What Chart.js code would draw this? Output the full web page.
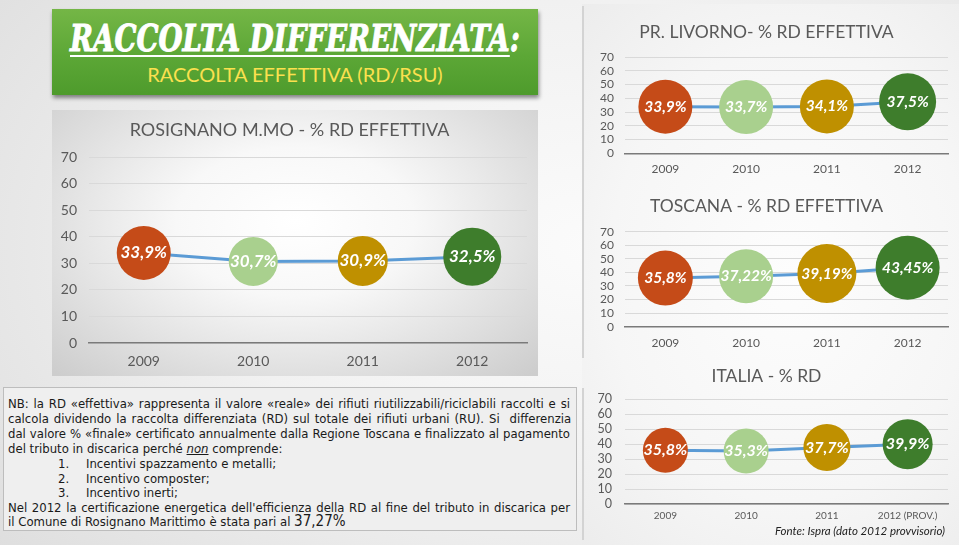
<!DOCTYPE html>
<html><head><meta charset="utf-8">
<script src="https://cdn.jsdelivr.net/npm/chart.js@4.4.0/dist/chart.umd.min.js"></script>
<style>
html,body{margin:0;padding:0;}
body{width:959px;height:545px;position:relative;overflow:hidden;
 background:radial-gradient(ellipse 80% 90% at 62% 45%, #fbfbfb 0%, #f1f1f1 50%, #dedede 100%);
 font-family:Lato,sans-serif;}
.abs{position:absolute;}
#banner{left:52px;top:9px;width:486px;height:86px;
 background:linear-gradient(180deg,#74b646 0%,#5ca736 55%,#4e9b2c 100%);
 box-shadow:1px 3px 4px rgba(0,0,0,0.45);}
#bt{left:0;top:6px;width:486px;display:flex;justify-content:center;color:#fff;white-space:nowrap;
 font-family:"DejaVu Serif",serif;font-style:italic;font-weight:bold;font-size:38px;line-height:46px;
 -webkit-text-stroke:1px #fff;}
#bt span.u{text-decoration:underline;text-decoration-thickness:2px;text-underline-offset:4px;}
#bs{left:0;top:53px;width:486px;text-align:center;color:#fbe04f;font-family:Lato,sans-serif;font-size:20px;line-height:24px;}
#rpanel{left:52px;top:110px;width:486px;height:266px;
 background:radial-gradient(ellipse 70% 80% at 50% 42%, #ffffff 0%, #f8f8f8 35%, #cdcdcd 100%);}
#rside{left:582px;top:4px;width:377px;height:541px;
 background:radial-gradient(ellipse 80% 70% at 55% 50%, #fdfdfd 0%, #f6f6f6 60%, #ececec 100%);}
.vline{left:582px;width:2px;background:#d3d3d3;}
#note{left:3px;top:387px;width:572px;height:142px;border:1px solid #bdbdbd;background:#efefef;
 font-family:"DejaVu Sans Condensed","DejaVu Sans",sans-serif;font-size:13px;color:#1a1a1a;}
.ln{position:absolute;left:4px;width:562px;white-space:nowrap;line-height:15px;}
.big{font-size:15px;}
#fonte{left:760px;top:524px;width:185px;text-align:right;font-style:italic;font-size:11.5px;color:#222;font-family:Lato,sans-serif;}
canvas{position:absolute;}
</style></head>
<body>
<div id="rside" class="abs"></div>
<div class="abs vline" style="top:6px;height:352px;"></div>
<div class="abs vline" style="top:388px;height:152px;"></div>

<div id="banner" class="abs">
  <div id="bt" class="abs"><span id="btin"><span class="u">RACCOLTA DIFFERENZIATA</span>:</span></div>
  <div id="bs" class="abs">RACCOLTA EFFETTIVA (RD/RSU)</div>
</div>
<div id="rpanel" class="abs"></div>
<canvas id="cRos" width="486" height="266" style="left:52px;top:110px;"></canvas>
<canvas id="cLiv" width="374" height="177" style="left:585px;top:8px;"></canvas>
<canvas id="cTos" width="374" height="175" style="left:585px;top:185px;"></canvas>
<canvas id="cIta" width="374" height="185" style="left:585px;top:360px;"></canvas>
<div id="fonte" class="abs">Fonte: Ispra (dato 2012 provvisorio)</div>

<div id="note" class="abs">
 <div class="ln j" style="top:8px;"><span>NB: la RD «effettiva» rappresenta il valore «reale» dei rifiuti riutilizzabili/riciclabili raccolti e si</span></div>
 <div class="ln j" style="top:23px;"><span>calcola dividendo la raccolta differenziata (RD) sul totale dei rifiuti urbani (RU). Si&nbsp; differenzia</span></div>
 <div class="ln j" style="top:38px;"><span>dal valore % «finale» certificato annualmente dalla Regione Toscana e finalizzato al pagamento</span></div>
 <div class="ln" style="top:53px;">del tributo in discarica perché <i><u>non</u></i> comprende:</div>
 <div class="ln" style="top:68px;"><span style="position:absolute;left:50px;">1.</span><span style="position:absolute;left:78px;">Incentivi spazzamento e metalli;</span></div>
 <div class="ln" style="top:83px;"><span style="position:absolute;left:50px;">2.</span><span style="position:absolute;left:78px;">Incentivo composter;</span></div>
 <div class="ln" style="top:97px;"><span style="position:absolute;left:50px;">3.</span><span style="position:absolute;left:78px;">Incentivo inerti;</span></div>
 <div class="ln j" style="top:112px;"><span>Nel 2012 la certificazione energetica dell'efficienza della RD al fine del tributo in discarica per</span></div>
 <div class="ln" style="top:126px;">il Comune di Rosignano Marittimo è stata pari al <span class="big">37,27%</span></div>
</div>

<script>
// ---- data ----
const years = ['2009', '2010', '2011', '2012'];
const yearsItalia = ['2009', '2010', '2011', '2012 (PROV.)'];
const rosignano = [33.9, 30.7, 30.9, 32.5];
const livorno = [33.9, 33.7, 34.1, 37.5];
const toscana = [35.8, 37.22, 39.19, 43.45];
const italia = [35.8, 35.3, 37.7, 39.9];
const yMin = 0, yMax = 70, yStep = 10;

// ---- styles ----
const yearColors = ['#c54b18', '#a9d08e', '#bf9000', '#3e7d2c'];
const lineColor = '#5b9bd5';
const grey = '#595959';

// justify note lines
document.querySelectorAll('.ln.j').forEach(el => {
  const sp = el.firstElementChild;
  const w = sp.getBoundingClientRect().width;
  const spaces = (sp.textContent.match(/ /g) || []).length;
  const extra = 562 - w;
  if (spaces) sp.style.wordSpacing = (extra / spaces) + 'px';
});
// fit banner title
(function(){
  const inner = document.getElementById('btin');
  const bt = document.getElementById('bt');
  const w = inner.getBoundingClientRect().width;
  bt.style.transform = 'scaleX(' + (450 / w) + ')';
  bt.style.transformOrigin = '50% 50%';
})();

const valueLabels = {
  id: 'valueLabels',
  afterDatasetsDraw(chart, args, o) {
    const ctx = chart.ctx;
    const ds = chart.data.datasets[0];
    const meta = chart.getDatasetMeta(0);
    ctx.save();
    ctx.font = 'italic bold ' + o.size + 'px Lato';
    ctx.fillStyle = '#ffffff';
    ctx.textAlign = 'center';
    ctx.textBaseline = 'middle';
    meta.data.forEach((pt, i) => {
      ctx.fillText(String(ds.data[i]).replace('.', ',') + '%', pt.x, pt.y);
    });
    ctx.restore();
  }
};

function build(id, labels, values, g) {
  return new Chart(document.getElementById(id), {
    type: 'line',
    data: {
      labels: labels,
      datasets: [{
        data: values,
        borderColor: lineColor,
        borderWidth: g.lineW,
        pointBackgroundColor: yearColors,
        pointBorderWidth: 0,
        pointRadius: g.radii,
        pointHoverRadius: g.radii,
        tension: 0,
        fill: false,
        clip: false
      }]
    },
    options: {
      responsive: false,
      animation: false,
      events: [],
      layout: { autoPadding: false, padding: { left: 0, right: g.padRight, top: 0, bottom: 0 } },
      plugins: {
        legend: { display: false },
        tooltip: { enabled: false },
        title: {
          display: true, text: g.title, color: grey,
          font: { family: 'Lato', size: g.titleSize, weight: g.titleWeight, lineHeight: 1.2 },
          padding: { top: g.tTop, bottom: g.tBottom }
        },
        valueLabels: { size: g.labelSize }
      },
      scales: {
        x: {
          offset: true,
          grid: { display: false, drawTicks: false },
          border: { display: true, color: '#7a7a7a', width: 1.5 },
          ticks: { color: grey, font: { family: 'Lato', size: g.xSize }, padding: g.xPad, maxRotation: 0, autoSkip: false },
          afterFit(s) { s.height = g.xH; }
        },
        y: {
          min: yMin, max: yMax,
          ticks: { stepSize: yStep, color: grey, font: { family: 'Lato', size: g.ySize }, padding: g.yPad, autoSkip: false },
          grid: { color: '#d9d9d9', drawTicks: false, lineWidth: 1 },
          border: { display: false },
          afterFit(s) { s.width = g.yW; }
        }
      }
    },
    plugins: [valueLabels]
  });
}

build('cRos', years, rosignano, {
  title: 'ROSIGNANO M.MO - % RD EFFETTIVA', titleSize: 18, titleWeight: 'normal',
  tTop: 9.2, tBottom: 16.2, padRight: 11, yW: 37, yPad: 12, xH: 33, xPad: 9.6,
  xSize: 14, ySize: 14, labelSize: 17, lineW: 3, radii: [27, 24.5, 25, 29]
});
build('cLiv', years, livorno, {
  title: 'PR. LIVORNO- % RD EFFETTIVA', titleSize: 17.5, titleWeight: 'normal',
  tTop: 13.5, tBottom: 14.5, padRight: 11, yW: 40, yPad: 11, xH: 31.7, xPad: 8.5,
  xSize: 12, ySize: 12, labelSize: 15.5, lineW: 3, radii: [27, 27, 27, 28.5]
});
build('cTos', years, toscana, {
  title: 'TOSCANA - % RD EFFETTIVA', titleSize: 17.5, titleWeight: 'normal',
  tTop: 11.2, tBottom: 14.5, padRight: 11, yW: 40, yPad: 11, xH: 33.3, xPad: 9.1,
  xSize: 12, ySize: 12, labelSize: 15.5, lineW: 3, radii: [27.5, 27, 29.5, 32]
});
build('cIta', yearsItalia, italia, {
  title: 'ITALIA - % RD', titleSize: 17.5, titleWeight: 'normal',
  tTop: 6.2, tBottom: 11.8, padRight: 11, yW: 40, yPad: 13, xH: 41, xPad: 6,
  xSize: 10, ySize: 12.5, labelSize: 16, lineW: 3, radii: [22.5, 22.5, 23.5, 25]
});
</script>
</body></html>
